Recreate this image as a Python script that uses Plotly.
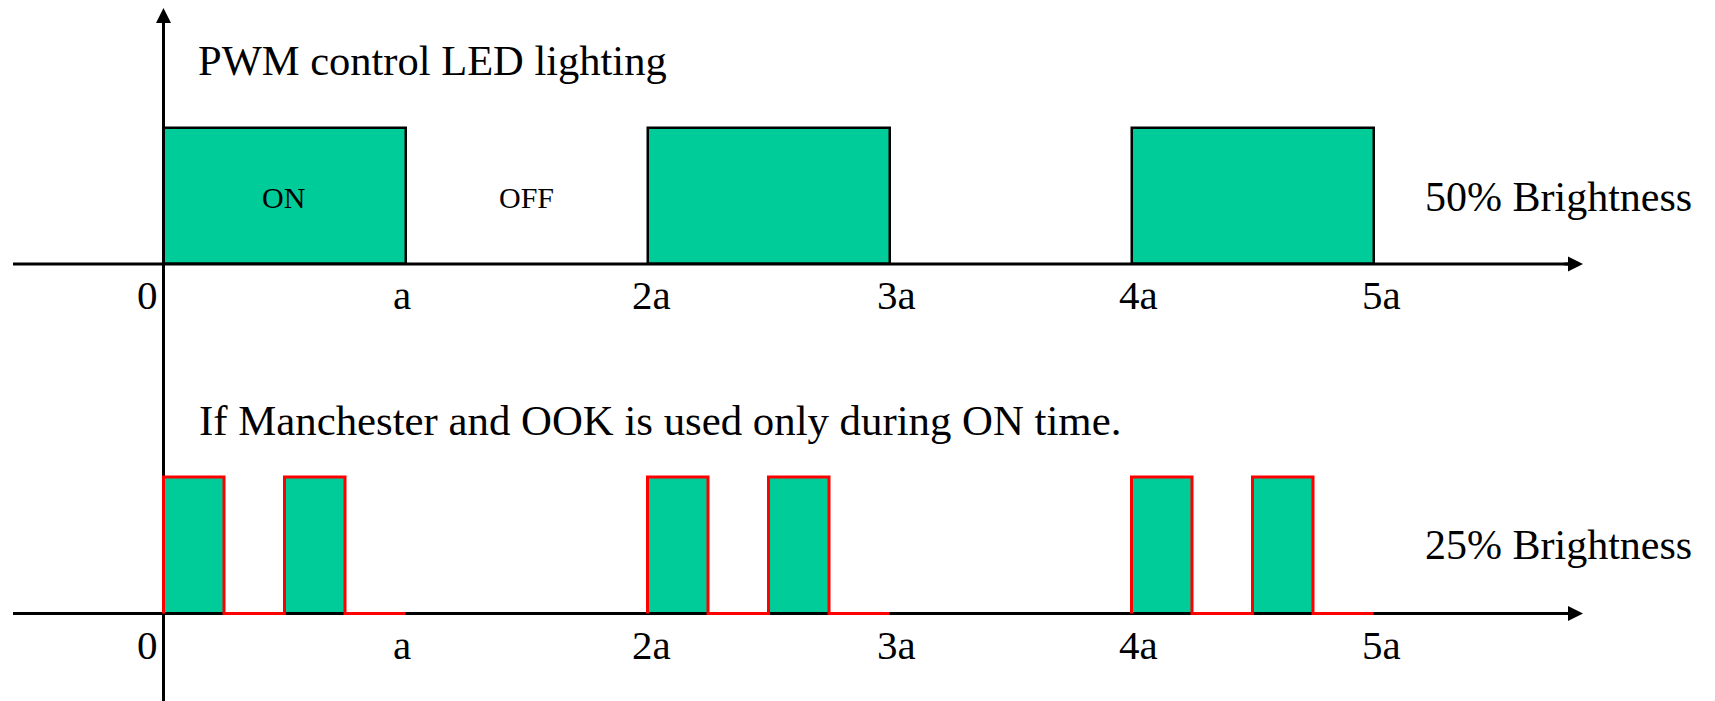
import plotly.graph_objects as go

# ---------------- data ----------------
pwm_period_starts = [0, 2, 4]          # ON periods start (units of a)
pwm_on_width = 1.0                      # ON duration (a)
pwm_level = [1, 1, 1]

# Manchester/OOK pattern inside each ON time (relative times, levels)
ook_times = [0, 0.25, 0.5, 0.75, 1.0]
ook_levels = [1, 0, 1, 0, 0]
ook_pulse_width = 0.25

tick_vals = [0, 1, 2, 3, 4, 5]
tick_text = ["0", "a", "2a", "3a", "4a", "5a"]
tick_label_x = [-0.015, 0.985, 2.015, 3.03, 4.03, 5.035]

title_top = "PWM control LED lighting"
title_bottom = "If Manchester and OOK is used only during ON time."
label_top = "50% Brightness"
label_bottom = "25% Brightness"
on_text, off_text = "ON", "OFF"

# ---------------- layout constants ----------------
W, H = 1715, 701
X0_PX, A_PX = 163.5, 242.0
Y1_BASE, Y1_UNIT = 264.0, 136.0
Y2_BASE, Y2_UNIT = 613.5, 136.5
GREEN = "#00CC99"
FONT = "Liberation Serif"

def xd(px):
    return (px - X0_PX) / A_PX

def y1d(py):
    return (Y1_BASE - py) / Y1_UNIT

def y2d(py):
    return (Y2_BASE - py) / Y2_UNIT

fig = go.Figure()

# top PWM bars
fig.add_trace(go.Bar(
    x=[s + pwm_on_width / 2 for s in pwm_period_starts], y=pwm_level,
    width=pwm_on_width, marker=dict(color=GREEN, line=dict(color="black", width=2.5)),
    yaxis="y", hoverinfo="skip"))

# bottom OOK pulses (fill)
pulse_x, pulse_y = [], []
for s in pwm_period_starts:
    for t, lv in zip(ook_times[:-1], ook_levels[:-1]):
        if lv == 1:
            pulse_x.append(s + t + ook_pulse_width / 2)
            pulse_y.append(lv)
fig.add_trace(go.Bar(
    x=pulse_x, y=pulse_y, width=ook_pulse_width,
    marker=dict(color=GREEN, line=dict(width=0)),
    yaxis="y2", hoverinfo="skip"))

# axis lines
x_tail, x_tip = xd(13), xd(1583)
fig.add_trace(go.Scatter(x=[x_tail, x_tip - 0.03], y=[0, 0], mode="lines",
                         line=dict(color="black", width=3), yaxis="y", hoverinfo="skip"))
fig.add_trace(go.Scatter(x=[x_tail, x_tip - 0.03], y=[0, 0], mode="lines",
                         line=dict(color="black", width=3), yaxis="y2", hoverinfo="skip"))
fig.add_trace(go.Scatter(x=[0, 0], y=[y1d(H + 5), y1d(20)], mode="lines",
                         line=dict(color="black", width=3), yaxis="y", hoverinfo="skip"))

# red OOK waveform
rx, ry = [], []
for s in pwm_period_starts:
    rx += [s] + [s + t for t in ook_times] + [None]
    ry += [0] + ook_levels + [None]
fig.add_trace(go.Scatter(x=rx, y=ry, mode="lines", line=dict(color="red", width=3, shape="hv"),
                         yaxis="y2", hoverinfo="skip", connectgaps=False))

ann = []
# arrow heads
for yr in ["y", "y2"]:
    ann.append(dict(x=x_tip, y=0, xref="x", yref=yr, ax=-20, ay=0, text="",
                    showarrow=True, arrowhead=2, arrowwidth=3, arrowsize=1,
                    arrowcolor="black", standoff=0))
ann.append(dict(x=0, y=y1d(8), xref="x", yref="y", ax=0, ay=20, text="",
                showarrow=True, arrowhead=2, arrowwidth=3, arrowsize=1,
                arrowcolor="black", standoff=0))

def txt(x, y, s, size, xanchor="left", yref="y"):
    return dict(x=x, y=y, xref="x", yref=yref, text=s, showarrow=False,
                xanchor=xanchor, yanchor="middle",
                font=dict(family=FONT, size=size, color="black"))

ann.append(txt(xd(196), y1d(60), title_top, 42.5))
ann.append(txt(xd(197), y2d(420.5), title_bottom, 42.8, yref="y2"))
ann.append(txt(xd(1694), y1d(196.5), label_top, 42, xanchor="right"))
ann.append(txt(xd(1694), y2d(545), label_bottom, 42, xanchor="right", yref="y2"))
ann.append(txt(xd(283.5), y1d(197.5), on_text, 30, xanchor="center"))
ann.append(txt(xd(526), y1d(197.5), off_text, 30, xanchor="center"))

for lx, t in zip(tick_label_x, tick_text):
    anc = "right" if t == "0" else "center"
    ann.append(txt(lx, y1d(295), t, 41, xanchor=anc))
    ann.append(txt(lx, y2d(645), t, 41, xanchor=anc, yref="y2"))

fig.update_layout(
    width=W, height=H, autosize=False,
    margin=dict(l=0, r=0, t=0, b=0, pad=0),
    paper_bgcolor="white", plot_bgcolor="white",
    showlegend=False, barmode="overlay", bargap=0,
    xaxis=dict(range=[xd(0), xd(W)], visible=False, fixedrange=True),
    yaxis=dict(range=[y1d(H), y1d(0)], visible=False, fixedrange=True),
    yaxis2=dict(range=[y2d(H), y2d(0)], visible=False, overlaying="y", fixedrange=True),
    annotations=ann,
)

fig.write_html("out.html", config=dict(displayModeBar=False),
               post_script="document.body.style.margin='0px';document.body.style.overflow='hidden';")
